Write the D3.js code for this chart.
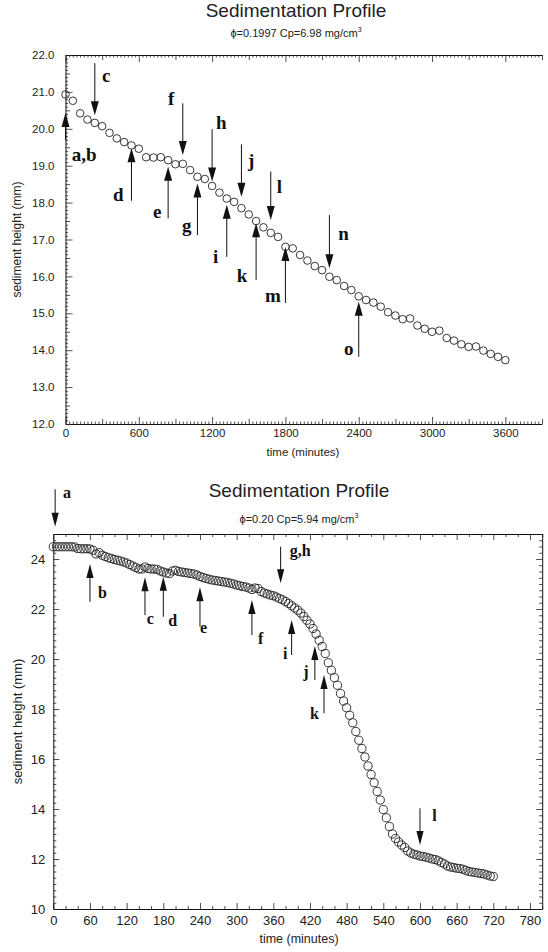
<!DOCTYPE html>
<html>
<head>
<meta charset="utf-8">
<script src="https://cdn.jsdelivr.net/npm/d3@7"></script>
<style>
  body { margin: 0; background: #fff; }
  svg { display: block; }
</style>
</head>
<body>
<svg id="chart" width="548" height="952"></svg>
<script>
// ---------- Run 1: phi = 0.1997, Cp = 6.98 mg/cm3 (sampled every 60 min) ----------
const run1Step = 60;
const run1Height = [
  20.93, 20.76, 20.42, 20.25, 20.16, 20.07, 19.89, 19.74, 19.64, 19.55,
  19.46, 19.23, 19.22, 19.23, 19.15, 19.04, 19.05, 18.88, 18.70, 18.64,
  18.45, 18.27, 18.11, 18.02, 17.85, 17.68, 17.50, 17.33, 17.18, 17.07,
  16.80, 16.76, 16.58, 16.43, 16.28, 16.17, 15.99, 15.90, 15.74, 15.63,
  15.46, 15.36, 15.29, 15.18, 15.03, 14.94, 14.84, 14.86, 14.67, 14.58,
  14.50, 14.53, 14.33, 14.26, 14.16, 14.09, 14.10, 13.99, 13.90, 13.82,
  13.73
];
const run1Time = run1Height.map((_, i) => i * run1Step);

// arrow annotations: time, tail height, tip height, label, label time, label baseline height
const run1Arrows = [
  { t: 0,    from: 19.70, to: 20.43, label: "a,b", lt: 51,   lv: 19.13 },
  { t: 240,  from: 21.78, to: 20.37, label: "c",   lt: 299,  lv: 21.28 },
  { t: 540,  from: 18.05, to: 19.47, label: "d",   lt: 389,  lv: 18.04 },
  { t: 840,  from: 17.57, to: 18.97, label: "e",   lt: 716,  lv: 17.58 },
  { t: 960,  from: 20.69, to: 19.29, label: "f",   lt: 839,  lv: 20.64 },
  { t: 1080, from: 17.12, to: 18.52, label: "g",   lt: 953,  lv: 17.21 },
  { t: 1200, from: 19.99, to: 18.57, label: "h",   lt: 1232, lv: 19.99 },
  { t: 1320, from: 16.53, to: 17.94, label: "i",   lt: 1207, lv: 16.35 },
  { t: 1440, from: 19.58, to: 18.16, label: "j",   lt: 1493, lv: 18.97 },
  { t: 1560, from: 15.90, to: 17.44, label: "k",   lt: 1401, lv: 15.86 },
  { t: 1680, from: 18.84, to: 17.53, label: "l",   lt: 1728, lv: 18.25 },
  { t: 1800, from: 15.28, to: 16.80, label: "m",   lt: 1633, lv: 15.31 },
  { t: 2160, from: 17.66, to: 16.22, label: "n",   lt: 2232, lv: 17.00 },
  { t: 2400, from: 13.82, to: 15.31, label: "o",   lt: 2279, lv: 13.87 }
];
const run1XTicks = [0, 600, 1200, 1800, 2400, 3000, 3600];
const run1YTicks = [12, 13, 14, 15, 16, 17, 18, 19, 20, 21, 22];

// ---------- Run 2: phi = 0.20, Cp = 5.94 mg/cm3 (sampled every 5 min) ----------
const run2Step = 5;
const run2Height = [
  24.49, 24.49, 24.49, 24.49, 24.49, 24.49, 24.49, 24.48, 24.42, 24.41,
  24.41, 24.41, 24.40, 24.35, 24.20, 24.25, 24.15, 24.10, 24.05, 24.02,
  23.98, 23.95, 23.92, 23.88, 23.84, 23.78, 23.72, 23.66, 23.60, 23.60,
  23.68, 23.62, 23.60, 23.60, 23.58, 23.52, 23.48, 23.44, 23.42, 23.52,
  23.55, 23.50, 23.48, 23.46, 23.44, 23.42, 23.40, 23.36, 23.30, 23.26,
  23.22, 23.19, 23.16, 23.14, 23.12, 23.10, 23.08, 23.06, 23.03, 23.00,
  22.96, 22.93, 22.90, 22.88, 22.84, 22.78, 22.84, 22.82, 22.70, 22.64,
  22.60, 22.56, 22.53, 22.48, 22.42, 22.37, 22.30, 22.22, 22.13, 22.04,
  21.95, 21.84, 21.70, 21.55, 21.40, 21.22, 21.00, 20.75, 20.50, 20.22,
  19.85, 19.55, 19.25, 18.95, 18.62, 18.32, 18.05, 17.75, 17.45, 17.10,
  16.75, 16.42, 16.08, 15.72, 15.38, 15.05, 14.70, 14.36, 13.98, 13.65,
  13.30, 13.00, 12.82, 12.68, 12.56, 12.46, 12.32, 12.24, 12.19, 12.16,
  12.12, 12.10, 12.07, 12.04, 12.00, 11.98, 11.93, 11.86, 11.80, 11.72,
  11.68, 11.66, 11.63, 11.62, 11.59, 11.55, 11.50, 11.48, 11.46, 11.44,
  11.42, 11.40, 11.36, 11.32, 11.30
];
const run2Time = run2Height.map((_, i) => i * run2Step);

const run2Arrows = [
  { t: 3,   from: 26.79, to: 25.29, label: "a",   lt: 16,  lv: 26.44 },
  { t: 60,  from: 22.29, to: 23.80, label: "b",   lt: 73,  lv: 22.44 },
  { t: 150, from: 21.76, to: 23.27, label: "c",   lt: 153, lv: 21.40 },
  { t: 180, from: 21.69, to: 23.29, label: "d",   lt: 188, lv: 21.32 },
  { t: 240, from: 21.29, to: 22.87, label: "e",   lt: 240, lv: 21.04 },
  { t: 325, from: 20.96, to: 22.36, label: "f",   lt: 335, lv: 20.60 },
  { t: 372, from: 24.49, to: 23.03, label: "g,h", lt: 387, lv: 24.12 },
  { t: 390, from: 20.16, to: 21.56, label: "i",   lt: 376, lv: 20.00 },
  { t: 428, from: 19.16, to: 20.52, label: "j",   lt: 409, lv: 19.27 },
  { t: 443, from: 17.83, to: 19.36, label: "k",   lt: 420, lv: 17.60 },
  { t: 600, from: 14.03, to: 12.56, label: "l",   lt: 620, lv: 13.52 }
];
const run2XTicks = [0, 60, 120, 180, 240, 300, 360, 420, 480, 540, 600, 660, 720, 780];
const run2YTicks = [10, 12, 14, 16, 18, 20, 22, 24];

// ---------- drawing ----------
const svg = d3.select("#chart");
const SANS = "'Liberation Sans', Arial, Helvetica, sans-serif";
const SERIF = "'Liberation Serif', 'Times New Roman', serif";

function styleAxis(g, fontSize) {
  g.selectAll("path.domain").attr("stroke", "#111").attr("stroke-width", 1);
  g.selectAll(".tick line").attr("stroke", "#222").attr("stroke-width", 0.8);
  g.selectAll("text").attr("font-family", SANS).attr("font-size", fontSize).attr("fill", "#222");
}

// one axis with several tick levels, all drawn inward
function addAxis(kind, scale, pos, levels, fontSize, fmt, padding) {
  levels.forEach((lv, i) => {
    const ax = kind(scale).tickValues(lv.values).tickSizeInner(-lv.size).tickSizeOuter(0);
    if (i === 0 && fmt) ax.tickFormat(fmt).tickPadding(padding);
    else ax.tickFormat("");
    const g = svg.append("g").attr("transform", pos).call(ax);
    if (i !== 0) g.select("path.domain").remove();
    styleAxis(g, fontSize);
  });
}

function multiples(lo, hi, step, excludeStep) {
  const out = [];
  for (let k = Math.round(lo / step); k * step <= hi + 1e-9; k++) {
    const v = +(k * step).toFixed(6);
    if (excludeStep && Math.abs(v / excludeStep - Math.round(v / excludeStep)) < 1e-6) continue;
    out.push(v);
  }
  return out;
}

function drawArrows(arrows, x, y, headLen, headHalf, fontSize) {
  const g = svg.append("g");
  arrows.forEach(a => {
    const px = x(a.t), y0 = y(a.from), y1 = y(a.to);
    const dir = Math.sign(y1 - y0);
    g.append("line")
      .attr("x1", px).attr("x2", px)
      .attr("y1", y0).attr("y2", y1 - dir * headLen * 0.8)
      .attr("stroke", "#111").attr("stroke-width", 1);
    g.append("path")
      .attr("d", `M${px},${y1} L${px - headHalf},${y1 - dir * headLen} L${px + headHalf},${y1 - dir * headLen} Z`)
      .attr("fill", "#111");
    g.append("text")
      .attr("x", x(a.lt)).attr("y", y(a.lv))
      .attr("font-family", SERIF).attr("font-weight", "bold")
      .attr("font-size", fontSize).attr("fill", "#111")
      .text(a.label);
  });
}

function drawTitle(cx, yTitle, ySub, phi, cp) {
  svg.append("text").attr("x", cx).attr("y", yTitle).attr("text-anchor", "middle")
    .attr("font-family", SANS).attr("font-size", 19).attr("fill", "#222")
    .text("Sedimentation Profile");
  const s = svg.append("text").attr("x", cx).attr("y", ySub).attr("text-anchor", "middle")
    .attr("font-family", SANS).attr("font-size", 11).attr("fill", "#222");
  s.append("tspan").text(`\u03d5=${phi} Cp=${cp} mg/cm`);
  s.append("tspan").attr("dy", -5).attr("font-size", 7).text("3");
}

function drawPoints(times, heights, x, y, r) {
  svg.append("g").selectAll("circle")
    .data(times.map((t, i) => [t, heights[i]]))
    .join("circle")
    .attr("cx", d => x(d[0])).attr("cy", d => y(d[1])).attr("r", r)
    .attr("fill", "none").attr("stroke", "#222").attr("stroke-width", 0.9);
}

// ----- top panel -----
{
  const x = d3.scaleLinear().domain([0, 3900]).range([65.5, 542]);
  const y = d3.scaleLinear().domain([12, 22]).range([424, 55]);
  const xLevels = [
    { values: run1XTicks, size: 7 },
    { values: multiples(0, 3900, 300, 600), size: 5 },
    { values: multiples(0, 3900, 30, 300), size: 2.5 }
  ];
  const yLevels = [
    { values: run1YTicks, size: 7 },
    { values: multiples(12, 22, 0.5, 1), size: 4.5 },
    { values: multiples(12, 22, 0.1, 0.5), size: 2.5 }
  ];
  addAxis(d3.axisBottom, x, `translate(0,${y(12)})`, xLevels, 11.5, d3.format("d"), 5);
  addAxis(d3.axisTop, x, `translate(0,${y(22)})`, xLevels, 11.5, null, 0);
  addAxis(d3.axisLeft, y, `translate(${x(0)},0)`, yLevels, 11.5, d3.format(".1f"), 11);

  drawTitle(296, 17, 37, "0.1997", "6.98");
  svg.append("text").attr("x", 303).attr("y", 456).attr("text-anchor", "middle")
    .attr("font-family", SANS).attr("font-size", 11.5).attr("fill", "#222").text("time (minutes)");
  svg.append("text").attr("transform", `translate(21,${(y(12) + y(22)) / 2}) rotate(-90)`)
    .attr("text-anchor", "middle").attr("font-family", SANS).attr("font-size", 12).attr("fill", "#222")
    .text("sediment height (mm)");

  drawPoints(run1Time, run1Height, x, y, 3.8);
  drawArrows(run1Arrows, x, y, 14, 4, 19);
}

// ----- bottom panel -----
{
  const x = d3.scaleLinear().domain([0, 800]).range([53.3, 542.2]);
  const y = d3.scaleLinear().domain([10, 25]).range([909, 534]);
  const xLevels = [
    { values: run2XTicks, size: 6 },
    { values: multiples(0, 800, 20, 60), size: 3 }
  ];
  const yLevels = [
    { values: run2YTicks, size: 6 },
    { values: multiples(10, 25, 0.25, 2), size: 3 }
  ];
  addAxis(d3.axisBottom, x, `translate(0,${y(10)})`, xLevels, 13, d3.format("d"), 7);
  addAxis(d3.axisTop, x, `translate(0,${y(25)})`, xLevels, 13, null, 0);
  addAxis(d3.axisLeft, y, `translate(${x(0)},0)`, yLevels, 13, d3.format("d"), 8);
  addAxis(d3.axisRight, y, `translate(${x(800)},0)`, yLevels, 13, null, 0);

  drawTitle(299, 497, 523, "0.20", "5.94");
  svg.append("text").attr("x", 299).attr("y", 943).attr("text-anchor", "middle")
    .attr("font-family", SANS).attr("font-size", 12.5).attr("fill", "#222").text("time (minutes)");
  svg.append("text").attr("transform", `translate(22,${(y(10) + y(25)) / 2}) rotate(-90)`)
    .attr("text-anchor", "middle").attr("font-family", SANS).attr("font-size", 13).attr("fill", "#222")
    .text("sediment height (mm)");

  drawPoints(run2Time, run2Height, x, y, 4.1);
  drawArrows(run2Arrows, x, y, 14, 3.6, 16);
}
</script>
</body>
</html>
